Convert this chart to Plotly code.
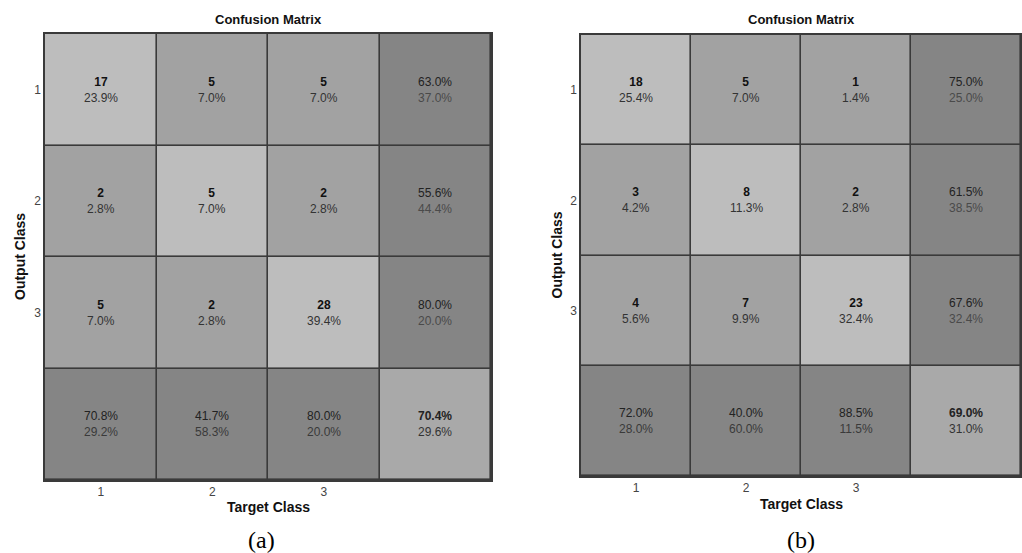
import plotly.graph_objects as go

W, H = 1022, 553

# ---------------- data ----------------
classes = ["1", "2", "3"]

counts_a = [[17, 5, 5], [2, 5, 2], [5, 2, 28]]
pct_a = [[23.9, 7.0, 7.0], [2.8, 7.0, 2.8], [7.0, 2.8, 39.4]]
row_ok_a = [63.0, 55.6, 80.0]
row_err_a = [37.0, 44.4, 20.0]
col_ok_a = [70.8, 41.7, 80.0]
col_err_a = [29.2, 58.3, 20.0]
total_a = [70.4, 29.6]

counts_b = [[18, 5, 1], [3, 8, 2], [4, 7, 23]]
pct_b = [[25.4, 7.0, 1.4], [4.2, 11.3, 2.8], [5.6, 9.9, 32.4]]
row_ok_b = [75.0, 61.5, 67.6]
row_err_b = [25.0, 38.5, 32.4]
col_ok_b = [72.0, 40.0, 88.5]
col_err_b = [28.0, 60.0, 11.5]
total_b = [69.0, 31.0]

title_text = "Confusion Matrix"
xlabel = "Target Class"
ylabel = "Output Class"
panel_labels = ["(a)", "(b)"]

# ---------------- style ----------------
C_DIAG = "#bdbdbd"
C_OFF = "#a2a2a2"
C_MARG = "#858585"
C_CORNER = "#a9a9a9"
GRID = "#3a3a3a"
FONT = "Arial, Liberation Sans, sans-serif"

colorscale = [[0.0, C_DIAG], [0.25, C_DIAG], [0.25, C_OFF], [0.5, C_OFF],
              [0.5, C_MARG], [0.75, C_MARG], [0.75, C_CORNER], [1.0, C_CORNER]]

# panel pixel boxes: (left, right, top, bottom)
boxes = [(45, 491, 34, 480), (581, 1021, 35, 476)]


def px_x(v):
    return v / W


def px_y(v):
    return 1 - v / H


fig = go.Figure()
panels = [
    (counts_a, pct_a, row_ok_a, row_err_a, col_ok_a, col_err_a, total_a),
    (counts_b, pct_b, row_ok_b, row_err_b, col_ok_b, col_err_b, total_b),
]

annotations = []
n = len(classes)
for p, (cnt, pct, rok, rerr, cok, cerr, tot) in enumerate(panels):
    xa = "x" if p == 0 else "x2"
    ya = "y" if p == 0 else "y2"
    # category codes for cell colouring
    z = []
    for i in range(n + 1):
        row = []
        for j in range(n + 1):
            if i == n and j == n:
                row.append(3)
            elif i == n or j == n:
                row.append(2)
            elif i == j:
                row.append(0)
            else:
                row.append(1)
        z.append(row)
    fig.add_trace(go.Heatmap(
        z=z, x=list(range(1, n + 2)), y=list(range(1, n + 2)),
        colorscale=colorscale, zmin=0, zmax=3, showscale=False,
        xgap=1.6, ygap=1.6, hoverinfo="skip", xaxis=xa, yaxis=ya,
    ))
    cell = dict(xref=xa, yref=ya, showarrow=False, xanchor="center", yanchor="middle")
    for i in range(n):
        for j in range(n):
            annotations.append(dict(
                cell, x=j + 1, y=i + 1,
                text=f"<b>{cnt[i][j]}</b><br><span style='color:#333333'>{pct[i][j]:.1f}%</span>",
                font=dict(family=FONT, size=12, color="#111111"),
            ))
        annotations.append(dict(
            cell, x=n + 1, y=i + 1,
            text=f"{rok[i]:.1f}%<br><span style='color:#4a4a4a'>{rerr[i]:.1f}%</span>",
            font=dict(family=FONT, size=12, color="#222222"),
        ))
    for j in range(n):
        annotations.append(dict(
            cell, x=j + 1, y=n + 1,
            text=f"{cok[j]:.1f}%<br><span style='color:#3a3a3a'>{cerr[j]:.1f}%</span>",
            font=dict(family=FONT, size=12, color="#222222"),
        ))
    annotations.append(dict(
        cell, x=n + 1, y=n + 1,
        text=f"<b>{tot[0]:.1f}%</b><br><span style='color:#333333'>{tot[1]:.1f}%</span>",
        font=dict(family=FONT, size=12, color="#222222"),
    ))

    l, r, t, b = boxes[p]
    cx = (l + r) / 2
    lab = dict(xref="paper", yref="paper", showarrow=False, xanchor="center", yanchor="middle")
    annotations.append(dict(lab, x=px_x(cx), y=px_y(19),
                            text=f"<b>{title_text}</b>",
                            font=dict(family=FONT, size=13, color="#111111")))
    annotations.append(dict(lab, x=px_x(cx), y=px_y(b + 27 if p == 0 else b + 28),
                            text=f"<b>{xlabel}</b>",
                            font=dict(family=FONT, size=14, color="#111111")))
    annotations.append(dict(lab, x=px_x(l - 25), y=px_y((t + b) / 2),
                            text=f"<b>{ylabel}</b>", textangle=-90,
                            font=dict(family=FONT, size=14, color="#111111")))
    annotations.append(dict(lab, x=px_x(cx - 7 if p == 0 else cx), y=px_y(540),
                            text=panel_labels[p],
                            font=dict(family="Liberation Serif, Times New Roman, serif", size=24, color="#000000")))

axis_common = dict(showgrid=False, zeroline=False, showline=True, linecolor=GRID,
                   linewidth=1.5, mirror=True, ticks="",
                   tickfont=dict(family=FONT, size=12, color="#444444"))

fig.update_layout(
    width=W, height=H, margin=dict(l=0, r=0, t=0, b=0),
    paper_bgcolor="white", plot_bgcolor=GRID,
    annotations=annotations, showlegend=False,
    xaxis=dict(axis_common, domain=[px_x(45), px_x(491)], range=[0.5, 4.5],
               tickvals=[1, 2, 3], ticktext=classes, anchor="y"),
    yaxis=dict(axis_common, domain=[px_y(480), px_y(34)], range=[4.5, 0.5],
               tickvals=[1, 2, 3], ticktext=classes, anchor="x"),
    xaxis2=dict(axis_common, domain=[px_x(581), px_x(1021)], range=[0.5, 4.5],
                tickvals=[1, 2, 3], ticktext=classes, anchor="y2"),
    yaxis2=dict(axis_common, domain=[px_y(476), px_y(35)], range=[4.5, 0.5],
                tickvals=[1, 2, 3], ticktext=classes, anchor="x2"),
)

fig.write_html("out.html", config={"displayModeBar": False},
               post_script="document.body.style.margin='0px';")
